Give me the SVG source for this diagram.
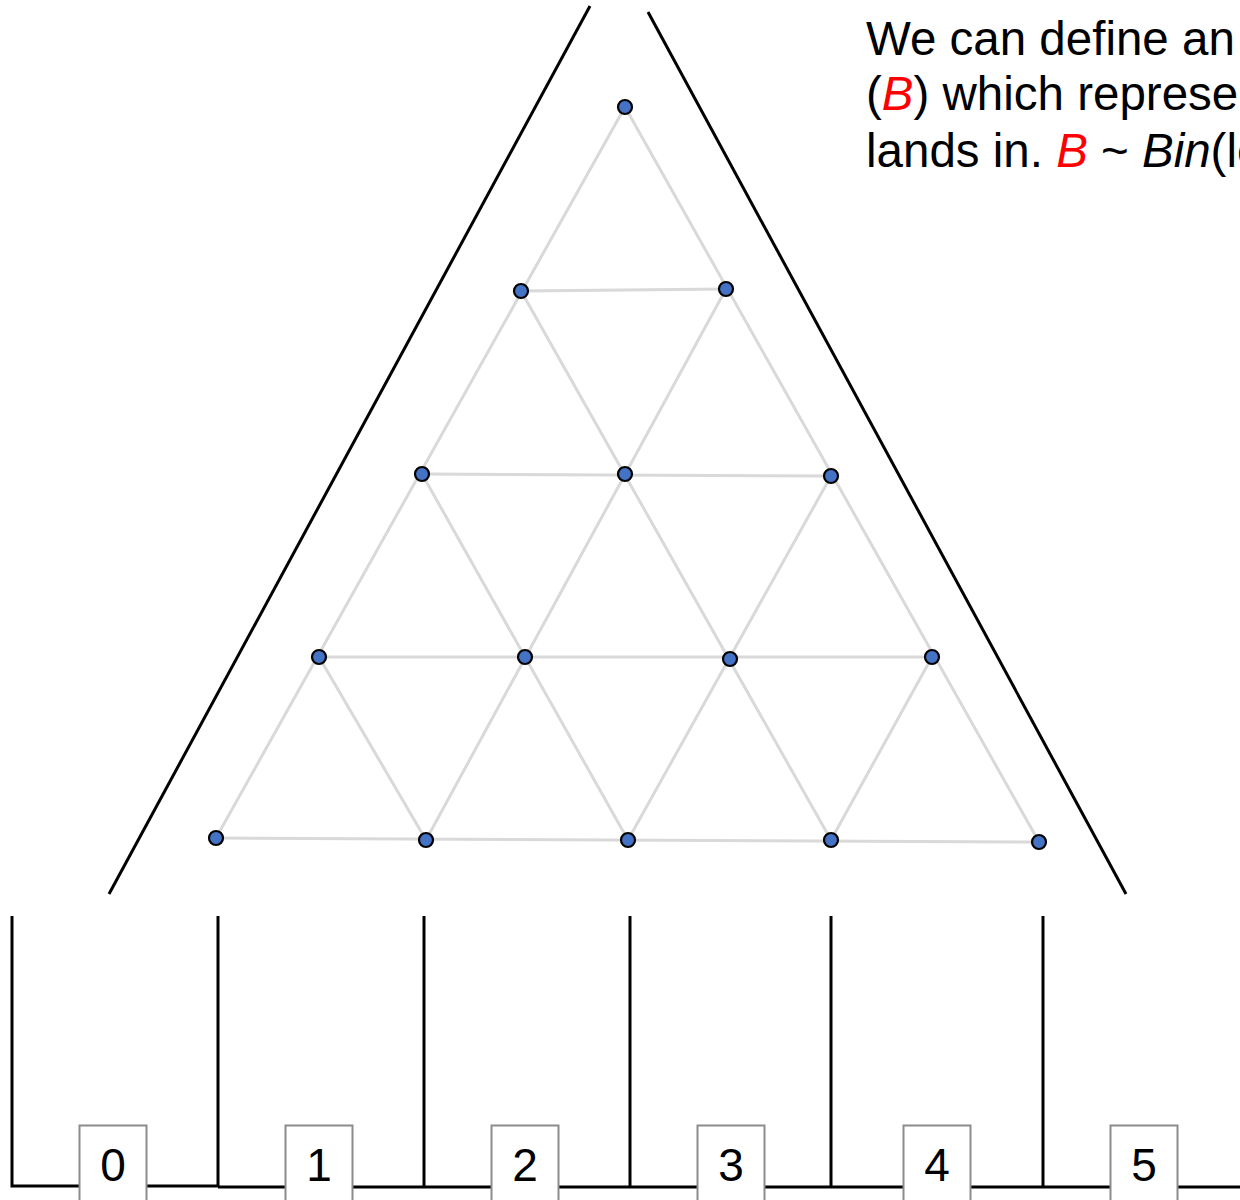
<svg xmlns="http://www.w3.org/2000/svg" width="1240" height="1200" viewBox="0 0 1240 1200">
<style>
.lat{stroke:#d9d9d9;stroke-width:3;fill:none;stroke-linecap:round}
.peg{fill:#4472C4;stroke:#000;stroke-width:2.2}
.wall{stroke:#000;stroke-width:3;fill:none}
.box{fill:#fff;stroke:#8c8c8c;stroke-width:2}
.lbl{font-family:"Liberation Sans",Arial,sans-serif;font-size:46px;fill:#000;text-anchor:middle}
.txt{font-family:"Liberation Sans",Arial,sans-serif;font-size:47.5px;fill:#000}
.red{fill:#ff0000;font-style:italic}
</style>
<rect width="1240" height="1200" fill="#fff"/>
<g id="connectors">
<g id="lattice">
<line class="lat" x1="521" y1="291" x2="726" y2="289"/>
<line class="lat" x1="422" y1="474" x2="831" y2="476"/>
<line class="lat" x1="319" y1="657" x2="932" y2="657"/>
<line class="lat" x1="216" y1="838" x2="1039" y2="842"/>
<line class="lat" x1="625" y1="107" x2="216" y2="838"/>
<line class="lat" x1="521" y1="291" x2="831" y2="840"/>
<line class="lat" x1="422" y1="474" x2="628" y2="840"/>
<line class="lat" x1="319" y1="657" x2="426" y2="840"/>
<line class="lat" x1="625" y1="107" x2="1039" y2="842"/>
<line class="lat" x1="726" y1="289" x2="426" y2="840"/>
<line class="lat" x1="831" y1="476" x2="628" y2="840"/>
<line class="lat" x1="932" y1="657" x2="831" y2="840"/>
</g>
<g id="funnel">
<line class="wall" x1="590" y1="6" x2="109" y2="894"/>
<line class="wall" x1="648" y1="12" x2="1126" y2="894"/>
</g>
<g id="bins">
<polyline class="wall" points="12,916 12,1186 218,1186"/>
<line class="wall" x1="218" y1="1187" x2="1240" y2="1187"/>
<line class="wall" x1="218" y1="916" x2="218" y2="1187"/>
<line class="wall" x1="424" y1="916" x2="424" y2="1187"/>
<line class="wall" x1="630" y1="916" x2="630" y2="1187"/>
<line class="wall" x1="831" y1="916" x2="831" y2="1187"/>
<line class="wall" x1="1043" y1="916" x2="1043" y2="1187"/>
</g>
</g>
<g id="pegs">
<circle class="peg" cx="625" cy="107" r="7"/>
<circle class="peg" cx="521" cy="291" r="7"/>
<circle class="peg" cx="726" cy="289" r="7"/>
<circle class="peg" cx="422" cy="474" r="7"/>
<circle class="peg" cx="625" cy="474" r="7"/>
<circle class="peg" cx="831" cy="476" r="7"/>
<circle class="peg" cx="319" cy="657" r="7"/>
<circle class="peg" cx="525" cy="657" r="7"/>
<circle class="peg" cx="730" cy="659" r="7"/>
<circle class="peg" cx="932" cy="657" r="7"/>
<circle class="peg" cx="216" cy="838" r="7"/>
<circle class="peg" cx="426" cy="840" r="7"/>
<circle class="peg" cx="628" cy="840" r="7"/>
<circle class="peg" cx="831" cy="840" r="7"/>
<circle class="peg" cx="1039" cy="842" r="7"/>
</g>
<g id="bin0"><rect class="box" x="79.5" y="1125.5" width="67" height="80"/><text class="lbl" x="113" y="1181">0</text></g>
<g id="bin1"><rect class="box" x="285.5" y="1125.5" width="67" height="80"/><text class="lbl" x="319" y="1181">1</text></g>
<g id="bin2"><rect class="box" x="491.5" y="1125.5" width="67" height="80"/><text class="lbl" x="525" y="1181">2</text></g>
<g id="bin3"><rect class="box" x="697.5" y="1125.5" width="67" height="80"/><text class="lbl" x="731" y="1181">3</text></g>
<g id="bin4"><rect class="box" x="903.5" y="1125.5" width="67" height="80"/><text class="lbl" x="937" y="1181">4</text></g>
<g id="bin5"><rect class="box" x="1110.5" y="1125.5" width="67" height="80"/><text class="lbl" x="1144" y="1181">5</text></g>
<g id="description">
<text class="txt" x="866" y="55">We can define an</text>
<text class="txt" x="866" y="110">(<tspan class="red">B</tspan>) which represe</text>
<text class="txt" x="866" y="167">lands in. <tspan class="red">B</tspan> ~ <tspan font-style="italic">Bin</tspan>(le</text>
</g>
</svg>
